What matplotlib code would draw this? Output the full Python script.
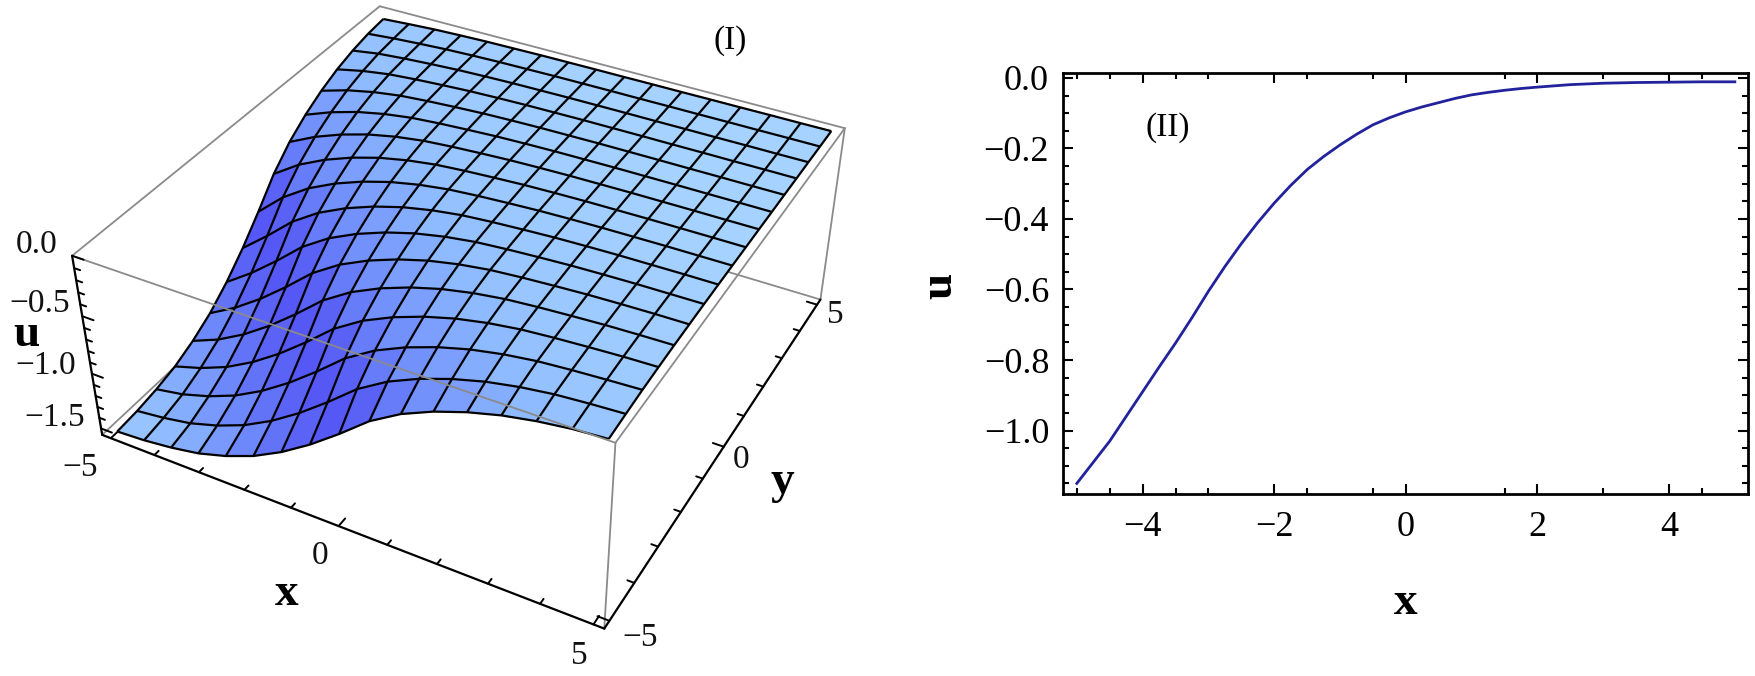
import numpy as np
import matplotlib
matplotlib.use("Agg")
import matplotlib.pyplot as plt
from matplotlib.colors import LinearSegmentedColormap

plt.rcParams['font.family'] = ['Liberation Serif', 'DejaVu Serif']

# ---------- data ----------
# panel II: u along x
line_x = [-5, -4.75, -4.5, -4.25, -4, -3.75, -3.5, -3.25, -3, -2.75, -2.5, -2.25, -2, -1.75, -1.5, -1.25,
          -1, -0.75, -0.5, -0.25, 0, 0.25, 0.5, 0.75, 1, 1.25, 1.5, 1.75, 2, 2.5, 3, 3.5, 4, 4.5, 5]
line_u = [-1.15, -1.09, -1.03, -0.96, -0.89, -0.82, -0.752, -0.68, -0.605, -0.535, -0.47, -0.41, -0.355,
          -0.305, -0.26, -0.223, -0.19, -0.16, -0.133, -0.113, -0.096, -0.082, -0.07, -0.058, -0.048,
          -0.041, -0.035, -0.03, -0.026, -0.019, -0.015, -0.013, -0.012, -0.011, -0.011]
# panel I: surface height along x+y on the 16-cell mesh lattice (s = -10 ... 10 in steps of 0.625)
surface_profile = [-1.555, -1.54, -1.51, -1.465, -1.39, -1.29, -1.155, -0.99, -0.80, -0.595, -0.44,
                   -0.325, -0.235, -0.165, -0.115, -0.08, -0.06, -0.045, -0.032, -0.024, -0.018,
                   -0.015, -0.012, -0.011, -0.010, -0.010, -0.009, -0.009, -0.008, -0.008, -0.007,
                   -0.007, -0.006]
mesh_cells = 16
x_ticks3d = [-5, -4, -3, -2, -1, 0, 1, 2, 3, 4, 5]
z_ticks3d = [0.0, -0.5, -1.0, -1.5]
z_minor3d = [-0.1, -0.2, -0.3, -0.4, -0.6, -0.7, -0.8, -0.9, -1.1, -1.2, -1.3, -1.4]
x_major2d = [-4, -2, 0, 2, 4]
x_minor2d = [-5, -4.5, -3.5, -3, -1.5, -0.5, 1.5, 3, 4.5]
y_major2d = [0.0, -0.2, -0.4, -0.6, -0.8, -1.0]
y_minor2d = [-0.05, -0.1, -0.15, -0.25, -0.3, -0.35, -0.45, -0.5, -0.55, -0.65, -0.7, -0.75,
             -0.85, -0.9, -0.95, -1.05, -1.1, -1.15]

W, H = 1755, 676
fig = plt.figure(figsize=(W / 100, H / 100), dpi=100, facecolor='white')


def ftext(px, py, s, **kw):
    kw.setdefault('ha', 'center')
    kw.setdefault('va', 'center')
    fig.text(px / W, 1 - py / H, s, **kw)


# ---------- panel I ----------
SIDE = 900
ax = fig.add_axes([0, (H - SIDE) / 2 / H, SIDE / W, SIDE / H], projection='3d', computed_zorder=False)
ax.set_axis_off()
ax.patch.set_alpha(0)

L, ZT, ZB = 5.2, 0.0, -1.56
grid = np.linspace(-5, 5, mesh_cells + 1)
X, Y = np.meshgrid(grid, grid)
prof = np.array(surface_profile)
idx = np.add.outer(np.arange(mesh_cells + 1), np.arange(mesh_cells + 1))
Z = prof[idx]

shade = np.abs(np.gradient(prof))
shade = (shade / shade.max()) ** 0.7
cmap = LinearSegmentedColormap.from_list('lit', ['#A6D3FF', '#8FBBFF', '#6F8CFB', '#5558F5'])
cell_idx = np.minimum(idx + 1, len(prof) - 1)
fc = cmap(shade[cell_idx])

GRAY = '#8a8a8a'
def edge(p, q, color=GRAY, lw=1.3, z=1):
    ax.plot([p[0], q[0]], [p[1], q[1]], [p[2], q[2]], color=color, lw=lw, zorder=z, solid_capstyle='round')

# hidden rear edges
edge((-L, L, ZB), (L, L, ZB))
edge((-L, -L, ZB), (-L, L, ZB))
edge((-L, L, ZT), (L, L, ZT), z=1)
edge((-L, -L, ZT), (-L, L, ZT), z=1)
edge((L, L, ZT), (L, L, ZB), z=1)

ax.plot_surface(X, Y, Z, facecolors=fc, shade=False, rstride=1, cstride=1,
                linewidth=0, antialiased=False, zorder=3)
ax.plot_wireframe(X, Y, Z, rstride=1, cstride=1, color='black', linewidth=1.6, zorder=4)

# front edges over the surface
edge((-L, -L, ZT), (L, -L, ZT), z=5)
edge((L, -L, ZT), (L, L, ZT), z=5)
edge((L, -L, ZT), (L, -L, ZB), z=5)
# black axes
edge((-L, -L, ZT), (-L, -L, ZB), color='black', lw=1.6, z=6)
edge((-L, -L, ZB), (L, -L, ZB), color='black', lw=1.6, z=6)
edge((L, -L, ZB), (L, L, ZB), color='black', lw=1.6, z=6)
for t in x_ticks3d:
    n = 0.22 if t in (-5, 0, 5) else 0.13
    edge((t, -L, ZB), (t, -L + n, ZB), color='black', lw=1.4, z=6)
    edge((L, t, ZB), (L - n, t, ZB), color='black', lw=1.4, z=6)
for t in z_ticks3d:
    edge((-L, -L, t), (-L + 0.25, -L, t), color='black', lw=1.4, z=6)
for t in z_minor3d:
    edge((-L, -L, t), (-L + 0.13, -L, t), color='black', lw=1.4, z=6)

ax.set_xlim(-L, L)
ax.set_ylim(-L, L)
ax.set_zlim(ZB, ZT)

# camera fitted to where the box corners sit in the reference
world = np.array([(-L, -L, ZT), (L, -L, ZT), (L, L, ZT), (-L, L, ZT),
                  (-L, -L, ZB), (L, -L, ZB), (L, L, ZB)])
pixels = np.array([(72, 257), (615, 442), (845, 128), (380, 6),
                   (102, 434), (605, 629), (820, 300)], dtype=float)
fig.canvas.draw()
disp = np.column_stack([pixels[:, 0], H - pixels[:, 1]])
uv = ax.transData.inverted().transform(disp)
A = []
for (a, b, c), (u, v) in zip(world, uv):
    A.append([a, b, c, 1, 0, 0, 0, 0, -u * a, -u * b, -u * c, -u])
    A.append([0, 0, 0, 0, a, b, c, 1, -v * a, -v * b, -v * c, -v])
P = np.linalg.svd(np.array(A))[2][-1].reshape(3, 4)
if P[2, 3] < 0:
    P = -P
# same form as matplotlib's own perspective matrix: depth = -c / w
M = np.vstack([P[0], P[1], [0, 0, 0, -P[2, 3]], P[2]])
ax.get_proj = lambda: M

for (px, py, s) in [(37, 245, '0.0'), (40, 304, '\u22120.5'), (46, 366, '\u22121.0'), (55, 418, '\u22121.5'),
                    (80, 468, '\u22125'), (320, 556, '0'), (579, 656, '5'),
                    (640, 638, '\u22125'), (741, 460, '0'), (835, 315, '5')]:
    ftext(px, py, s, fontsize=24, color='#111111')
ftext(287, 594, 'x', fontsize=34, fontweight='bold')
ftext(782, 482, 'y', fontsize=34, fontweight='bold')
ftext(26, 335, 'u', fontsize=34, fontweight='bold')
ftext(730, 41, '(I)', fontsize=24)

# ---------- panel II ----------
ax2 = fig.add_axes([1063 / W, 1 - 494 / H, 685 / W, 421 / H])
ax2.plot(line_x, line_u, color='#22229C', lw=2.0)
ax2.set_xlim(-5.21, 5.2)
ax2.set_ylim(-1.18, 0.014)
ax2.set_xticks(x_major2d, [str(v).replace('-', '\u2212') for v in x_major2d])
ax2.set_xticks(x_minor2d, minor=True)
ax2.set_yticks(y_major2d, [f'{v:.1f}'.replace('-', '\u2212') for v in y_major2d])
ax2.set_yticks(y_minor2d, minor=True)
ax2.tick_params(which='both', direction='in', top=True, right=True, width=1.5, color='black')
ax2.tick_params(which='major', length=7, labelsize=26)
ax2.tick_params(which='minor', length=4)
ax2.tick_params(axis='x', which='major', pad=12)
ax2.tick_params(axis='y', which='major', pad=10)
for sp in ax2.spines.values():
    sp.set_linewidth(2.0)
ax2.set_xlabel('x', fontsize=34, fontweight='bold', va='center', ha='center')
ax2.xaxis.set_label_coords(0.5, (494 - 603) / 421)
ax2.set_ylabel('u', fontsize=34, fontweight='bold', va='center', ha='center', rotation=90)
ax2.yaxis.set_label_coords((940 - 1063) / 685, (494 - 286) / 421)
ftext(1168, 128, '(II)', fontsize=24)

fig.savefig('out.png', dpi=100)
